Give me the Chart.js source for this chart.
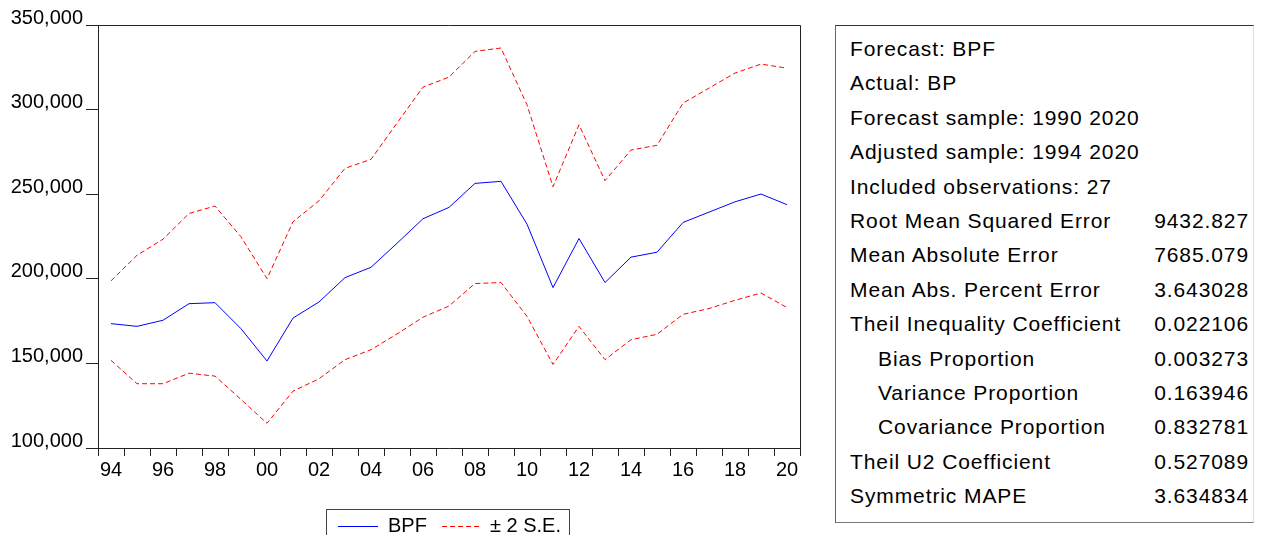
<!DOCTYPE html>
<html>
<head>
<meta charset="utf-8">
<script src="https://cdn.jsdelivr.net/npm/chart.js@4/dist/chart.umd.min.js"></script>
<style>
  html, body { margin: 0; padding: 0; background: #fff; }
  body { width: 1267px; height: 535px; position: relative; overflow: hidden;
         font-family: "Liberation Sans", Arial, sans-serif; color: #000; }
  #plot { position: absolute; left: 0; top: 0; }
  #legend { position: absolute; left: 326px; top: 509px; width: 244px; height: 40px;
            border: 1px solid #444; box-sizing: border-box; font-size: 20px; }
  #legend svg { position: absolute; top: 0; left: 0; }
  #legend span { position: absolute; top: 4px; line-height: 22px; white-space: nowrap; }
  #stats { position: absolute; left: 835px; top: 25px; width: 419px; height: 498px;
           box-sizing: border-box; border-top: 1px solid #333; border-left: 1px solid #666;
           border-bottom: 1px solid #777; border-right: 1px solid #ddd;
           padding: 6px 4px 0 14px; font-size: 21px; letter-spacing: 0.9px; }
  #stats .row { height: 34.4px; line-height: 34.4px; position: relative; white-space: nowrap; }
  #stats .row.sub .lab { padding-left: 28px; }
  #stats .val { position: absolute; right: 0; top: 0; }
</style>
</head>
<body>
<canvas id="plot" width="820" height="535"></canvas>
<div id="legend">
  <svg width="244" height="40">
    <line x1="11" y1="16.5" x2="51" y2="16.5" stroke="#0000ff" stroke-width="1"/>
    <line x1="115" y1="16.5" x2="152" y2="16.5" stroke="#ff0000" stroke-width="1" stroke-dasharray="5,3"/>
  </svg>
  <span style="left:61px">BPF</span>
  <span style="left:163px">± 2 S.E.</span>
</div>
<div id="stats"></div>
<script>
// Forecast years and the forecast with its ±2 standard-error band
const years = [1994, 1995, 1996, 1997, 1998, 1999, 2000, 2001, 2002, 2003, 2004, 2005, 2006, 2007,
               2008, 2009, 2010, 2011, 2012, 2013, 2014, 2015, 2016, 2017, 2018, 2019, 2020];
const bpf = [173500, 171900, 175500, 185300, 185900, 170500, 151400, 176800, 186300, 200700, 206800,
             221000, 235500, 242200, 256400, 257600, 232300, 194800, 223800, 197800, 212800, 215700,
             233300, 239400, 245500, 250100, 243800];
const upperSE = [198800, 213900, 223400, 238600, 243000, 224800, 200100, 233700, 246100, 265300, 270600,
                 292000, 313300, 319200, 334400, 336400, 302800, 254400, 291000, 258000, 276100, 278900,
                 303800, 312700, 321600, 326900, 324500];
const lowerSE = [151800, 138000, 138000, 144200, 142500, 128700, 114600, 133600, 140900, 152200, 158100,
                 167400, 177300, 183900, 197200, 197800, 177800, 149400, 171900, 152200, 164000, 167200,
                 179000, 182400, 187300, 191600, 183000];
const yTicks = [100000, 150000, 200000, 250000, 300000, 350000];

// Forecast evaluation statistics
const statLabels = ['Forecast: BPF', 'Actual: BP', 'Forecast sample: 1990 2020', 'Adjusted sample: 1994 2020',
  'Included observations: 27', 'Root Mean Squared Error', 'Mean Absolute Error', 'Mean Abs. Percent Error',
  'Theil Inequality Coefficient', 'Bias Proportion', 'Variance Proportion', 'Covariance Proportion',
  'Theil U2 Coefficient', 'Symmetric MAPE'];
const statValues = ['', '', '', '', '', '9432.827', '7685.079', '3.643028', '0.022106', '0.003273',
  '0.163946', '0.832781', '0.527089', '3.634834'];
const statIndented = [false, false, false, false, false, false, false, false, false, true, true, true, false, false];

const statsBox = document.getElementById('stats');
statLabels.forEach((lab, i) => {
  const row = document.createElement('div');
  row.className = 'row' + (statIndented[i] ? ' sub' : '');
  const l = document.createElement('span');
  l.className = 'lab';
  l.textContent = lab;
  row.appendChild(l);
  if (statValues[i]) {
    const v = document.createElement('span');
    v.className = 'val';
    v.textContent = statValues[i];
    row.appendChild(v);
  }
  statsBox.appendChild(row);
});

const FONT = '"Liberation Sans", Arial, sans-serif';

// closes the plot frame on the top and right sides
const frame = {
  id: 'frame',
  afterDatasetsDraw(chart) {
    const { ctx, chartArea: a } = chart;
    ctx.save();
    ctx.strokeStyle = '#222';
    ctx.lineWidth = 1;
    const l = Math.round(a.left) + 0.5, r = Math.round(a.right) + 0.5;
    const t = Math.round(a.top) + 0.5, b = Math.round(a.bottom) + 0.5;
    ctx.beginPath();
    ctx.moveTo(l, t); ctx.lineTo(r, t); ctx.lineTo(r, b);
    ctx.stroke();
    ctx.restore();
  }
};

new Chart(document.getElementById('plot'), {
  type: 'line',
  data: {
    labels: years,
    datasets: [
      { label: 'BPF', data: bpf, borderColor: '#0000ff', borderWidth: 1, pointRadius: 0, tension: 0 },
      { label: '+2 S.E.', data: upperSE, borderColor: '#ff0000', borderWidth: 1, borderDash: [5, 3], pointRadius: 0, tension: 0 },
      { label: '-2 S.E.', data: lowerSE, borderColor: '#ff0000', borderWidth: 1, borderDash: [5, 3], pointRadius: 0, tension: 0 }
    ]
  },
  options: {
    responsive: false,
    animation: false,
    devicePixelRatio: 1,
    layout: { padding: { top: 25, right: 20, left: 0, bottom: 47 } },
    plugins: { legend: { display: false }, tooltip: { enabled: false }, title: { display: false } },
    scales: {
      x: {
        type: 'category',
        offset: true,
        afterFit(scale) { scale.height = 40; },
        grid: { display: true, offset: true, drawOnChartArea: false, drawTicks: true, tickLength: 8, color: '#222' },
        border: { display: true, color: '#222', width: 1 },
        ticks: {
          autoSkip: false, maxRotation: 0, padding: 2, color: '#000',
          font: { family: FONT, size: 20 },
          callback(value, index) {
            const y = years[index];
            return y % 2 === 0 ? String(y % 100).padStart(2, '0') : '';
          }
        }
      },
      y: {
        min: 100000, max: 350000,
        afterFit(scale) { scale.width = 98; },
        afterBuildTicks(scale) { scale.ticks = yTicks.map(v => ({ value: v })); },
        grid: { display: true, drawOnChartArea: false, drawTicks: true, tickLength: 12, color: '#222' },
        border: { display: true, color: '#222', width: 1 },
        ticks: {
          padding: 3, color: '#000', labelOffset: -7,
          font: { family: FONT, size: 20 },
          callback(value) { return value.toLocaleString('en-US'); }
        }
      }
    }
  },
  plugins: [frame]
});
</script>
</body>
</html>
